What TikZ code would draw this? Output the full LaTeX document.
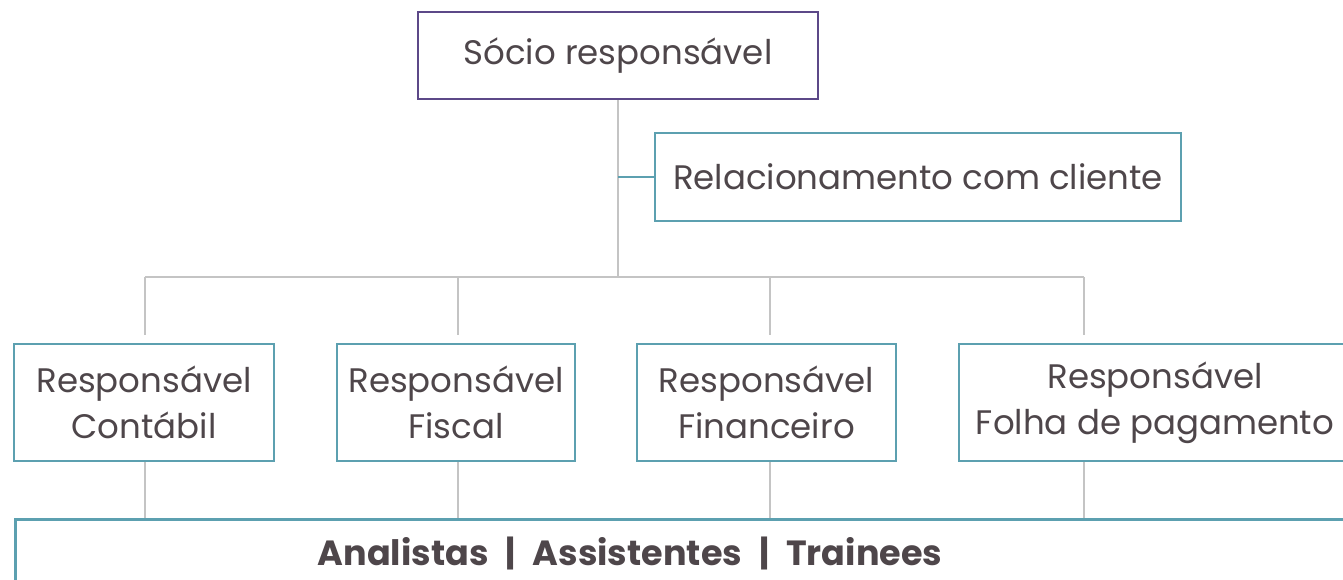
\documentclass[tikz,border=0pt]{standalone}
\usepackage{fontspec}
\setmainfont{Poppins}
\usepackage{tikz}
\usetikzlibrary{positioning,calc}
\definecolor{socio}{RGB}{92,72,136}
\definecolor{petrol}{RGB}{92,160,176}
\definecolor{wire}{RGB}{196,196,196}
\definecolor{ink}{RGB}{78,70,74}
\tikzset{
  unitbox/.style={draw=petrol,line width=2.6pt,text=ink,align=center,
    inner sep=0pt,font=\fontsize{34}{46}\selectfont},
  wireline/.style={draw=wire,line width=2.6pt}
}

\begin{document}
\begin{tikzpicture}[x=1pt,y=-1pt]
  \clip (0,0) rectangle (1343,579);
  \fill[white] (0,0) rectangle (1343,579);
  % top of the chart
  \node[unitbox,draw=socio,minimum width=400pt,minimum height=87pt] (socio) at (618,55.5) {Sócio responsável};
  \node[unitbox,minimum width=526pt,minimum height=88pt] (rel) at (918,177) {Relacionamento com cliente};
  % the four heads
  \node[unitbox,minimum width=260pt,minimum height=117pt] (cont) at (144,402.5) {Responsável\\Contábil};
  \node[unitbox,minimum width=238pt,minimum height=117pt] (fisc) at (456,402.5) {Responsável\\Fiscal};
  \node[unitbox,minimum width=259pt,minimum height=117pt] (fin) at (766.5,402.5) {Responsável\\Financeiro};
  \node[unitbox,minimum width=392pt,minimum height=117pt] (folha) at (1155,402.5) {Responsável\\Folha de pagamento};
  % team at the bottom
  \node[unitbox,anchor=north west,minimum width=1400pt,minimum height=100pt] (team) at (14,518) {};
  \node[text=ink,font=\fontsize{35}{40}\bfseries\selectfont] (teamlbl) at (630,553)
    {Analistas\hspace{17pt}|\hspace{17pt}Assistentes\hspace{17pt}|\hspace{17pt}Trainees};
  % wiring
  \coordinate (bus) at (618,277);
  \draw[wireline] (socio.south) -- (bus);
  \draw[petrol,line width=2.6pt] (socio.south |- rel.west) -- (rel.west);
  \draw[wireline] (145,277) -- (1084,277);
  \foreach \n/\x in {cont/145,fisc/458,fin/770,folha/1084}{
    \draw[wireline] (\x,277) -- (\x,335);
    \draw[wireline] (\x,0 |- \n.south) -- (\x,0 |- team.north);
  }
\end{tikzpicture}
\end{document}
